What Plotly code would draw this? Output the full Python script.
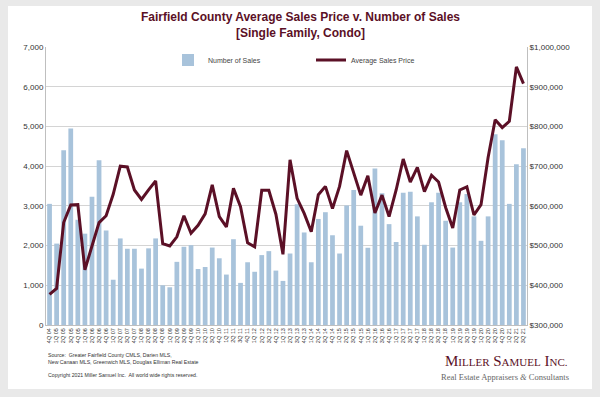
import plotly.graph_objects as go

quarters = ["4Q 04"] + [f"{q}Q {y:02d}" for y in range(5, 21) for q in range(1, 5)] + ["1Q 21", "2Q 21", "3Q 21"]

number_of_sales = [
    3050, 2050, 4400, 4950, 2650, 2300, 3230, 4150, 2380, 1140,
    2180, 1920, 1920, 1420, 1930, 2180, 1000, 950, 1590, 1970,
    2010, 1410, 1460, 1950, 1680, 1270, 2160, 1060, 1580, 1340,
    1760, 1860, 1370, 1110, 1800, 3040, 2330, 1580, 2670, 2840,
    2260, 1800, 3010, 3400, 2500, 1945, 3940, 3320, 2540, 2090,
    3330, 3355, 2735, 2020, 3090, 3330, 2625, 1950, 3090, 3300,
    2735, 2120, 2735, 4800, 4650, 3050, 4050, 4450,
]

average_sales_price = [
    377000, 392000, 558000, 602000, 603000, 439000, 499000, 558000, 575000, 629000,
    700000, 698000, 640000, 616000, 640000, 663000, 505000, 499000, 522000, 575000,
    531000, 551000, 580000, 653000, 573000, 547000, 644000, 598000, 507000, 497000,
    639000, 639000, 579000, 478000, 716000, 619000, 581000, 535000, 628000, 649000,
    593000, 649000, 739000, 684000, 627000, 676000, 582000, 627000, 573000, 640000,
    718000, 660000, 697000, 636000, 677000, 660000, 596000, 544000, 640000, 648000,
    577000, 603000, 722000, 817000, 797000, 813000, 950000, 908000,
]

left_ticks = [0, 1000, 2000, 3000, 4000, 5000, 6000, 7000]
right_ticks = [300000, 400000, 500000, 600000, 700000, 800000, 900000, 1000000]
right_labels = ["$300,000", "$400,000", "$500,000", "$600,000", "$700,000", "$800,000", "$900,000", "$1,000,000"]

MAROON = "#5b1026"
BLUE = "#a8c3db"

L, R, T, B = 46, 73, 47, 72
W, H = 600, 397
PW, PH = W - L - R, H - T - B

def px(x):
    return (x - L) / PW

def py(y):
    return (H - B - y) / PH

fig = go.Figure()
fig.add_trace(go.Bar(
    x=quarters, y=number_of_sales, name="Number of Sales",
    marker=dict(color=BLUE, line=dict(width=0)), yaxis="y",
))
fig.add_trace(go.Scatter(
    x=quarters, y=average_sales_price, name="Average Sales Price",
    mode="lines", line=dict(color=MAROON, width=3), yaxis="y2",
))

fig.update_layout(
    width=W, height=H,
    margin=dict(l=L, r=R, t=T, b=B),
    paper_bgcolor="#e9e9e9",
    plot_bgcolor="white",
    bargap=0.33,
    font=dict(family="Liberation Sans, Arial, sans-serif", color="#333333", size=8),
    showlegend=True,
    legend=dict(
        orientation="h", x=px(168), y=py(60), xanchor="left", yanchor="middle",
        bgcolor="rgba(0,0,0,0)", font=dict(size=7, color="#444444"),
        entrywidth=98, entrywidthmode="pixels", itemwidth=30,
    ),
    xaxis=dict(
        type="category", tickangle=-90, tickfont=dict(size=5.5, color="#333333"),
        showgrid=False, showline=True, linecolor="#bfbfbf", ticks="",
        range=[-0.5, len(quarters) - 0.5],
    ),
    yaxis=dict(
        range=[0, 7000], tickvals=left_ticks, tickformat=",d",
        showgrid=True, gridcolor="#d4d4d4", gridwidth=1,
        showline=True, linecolor="#bfbfbf", ticks="",
        tickfont=dict(size=8, color="#333333"), zeroline=False,
    ),
    yaxis2=dict(
        range=[300000, 1000000], tickvals=right_ticks, ticktext=right_labels,
        overlaying="y", side="right", showgrid=False,
        showline=True, linecolor="#bfbfbf", ticks="",
        tickfont=dict(size=8, color="#333333"), zeroline=False,
    ),
)

# white panel behind chart
fig.add_shape(type="rect", xref="paper", yref="paper",
              x0=px(8), x1=px(592), y0=py(389), y1=py(6),
              fillcolor="white", line=dict(width=0), layer="below")

fig.add_annotation(
    xref="paper", yref="paper", x=px(300), y=py(25), xanchor="center", yanchor="middle",
    text="<b>Fairfield County Average Sales Price v. Number of Sales<br>[Single Family, Condo]</b>",
    showarrow=False, font=dict(size=12, color=MAROON, family="Liberation Sans, Arial, sans-serif"),
)

fig.add_annotation(
    xref="paper", yref="paper", x=px(46), y=py(365), xanchor="left", yanchor="middle",
    text="Source:  Greater Fairfield County CMLS, Darien MLS,<br>New Canaan MLS, Greenwich MLS, Douglas Elliman Real Estate<br><br>Copyright 2021 Miller Samuel Inc.  All world wide rights reserved.",
    showarrow=False, align="left", font=dict(size=5.2, color="#333333"),
)

sc = "font-size:11px"
fig.add_annotation(
    xref="paper", yref="paper", x=px(506), y=py(361), xanchor="center", yanchor="middle",
    text=f"M<span style='{sc}'>ILLER</span> S<span style='{sc}'>AMUEL</span> I<span style='{sc}'>NC.</span>",
    showarrow=False, font=dict(size=15, color=MAROON, family="Liberation Serif, Times New Roman, serif"),
)
fig.add_annotation(
    xref="paper", yref="paper", x=px(505), y=py(377), xanchor="center", yanchor="middle",
    text="Real Estate Appraisers <i>&amp;</i> Consultants",
    showarrow=False, font=dict(size=8.5, color="#666666", family="Liberation Serif, Times New Roman, serif"),
)

fig.write_html(
    "out.html",
    config={"displayModeBar": False},
    post_script="document.body.style.margin='0px';document.body.style.padding='0px';",
)
